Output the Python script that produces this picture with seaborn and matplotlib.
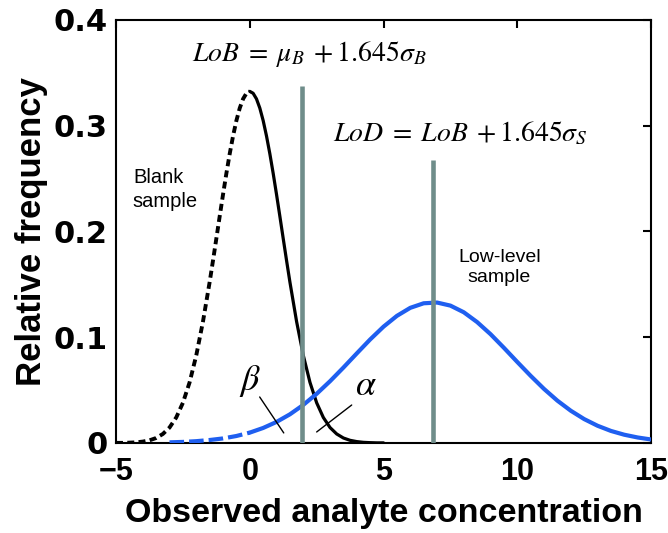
import matplotlib
matplotlib.use("Agg")
import matplotlib.pyplot as plt
import seaborn as sns
import pandas as pd

# ---- data ----
blank_x = [-5.0, -4.75, -4.5, -4.25, -4.0, -3.75, -3.5, -3.25, -3.0, -2.75,
           -2.5, -2.25, -2.0, -1.75, -1.5, -1.375, -1.25, -1.125, -1.0, -0.875,
           -0.75, -0.625, -0.5, -0.375, -0.25, -0.125, 0.0, 0.125, 0.25, 0.375,
           0.5, 0.625, 0.75, 0.875, 1.0, 1.125, 1.25, 1.375, 1.5, 1.75,
           2.0, 2.25, 2.5, 2.75, 3.0, 3.25, 3.5, 3.75, 4.0, 4.25,
           4.5, 4.75, 5.0]
blank_y = [0.0001, 0.0001, 0.0003, 0.0006, 0.0013, 0.0025, 0.0047, 0.0085, 0.0146, 0.0241,
           0.0380, 0.0573, 0.0829, 0.1148, 0.1522, 0.1725, 0.1933, 0.2143, 0.2350, 0.2549,
           0.2735, 0.2903, 0.3049, 0.3167, 0.3254, 0.3307, 0.3325, 0.3307, 0.3254, 0.3167,
           0.3049, 0.2903, 0.2735, 0.2549, 0.2350, 0.2143, 0.1933, 0.1725, 0.1522, 0.1148,
           0.0829, 0.0573, 0.0380, 0.0241, 0.0146, 0.0085, 0.0047, 0.0025, 0.0013, 0.0006,
           0.0003, 0.0001, 0.0001]

low_x = [-3.0, -2.5, -2.0, -1.5, -1.0, -0.5, 0.0, 0.5, 1.0, 1.5,
         2.0, 2.5, 3.0, 3.5, 4.0, 4.5, 5.0, 5.5, 6.0, 6.5,
         7.0, 7.5, 8.0, 8.5, 9.0, 9.5, 10.0, 10.5, 11.0, 11.5,
         12.0, 12.5, 13.0, 13.5, 14.0, 14.5, 15.0]
low_y = [0.0006, 0.0010, 0.0017, 0.0028, 0.0043, 0.0066, 0.0098, 0.0142, 0.0199, 0.0271,
         0.0360, 0.0465, 0.0584, 0.0713, 0.0847, 0.0979, 0.1100, 0.1202, 0.1278, 0.1321,
         0.1328, 0.1299, 0.1236, 0.1143, 0.1029, 0.0900, 0.0766, 0.0635, 0.0511, 0.0400,
         0.0305, 0.0226, 0.0163, 0.0114, 0.0078, 0.0052, 0.0033]

split_x = 0.0                       # dashed left of this, solid right
lob_x, lob_top = 1.95, 0.338        # Limit of Blank marker
lod_x, lod_top = 6.85, 0.268        # Limit of Detection marker

x_ticks = [-5, 0, 5, 10, 15]
x_tick_labels = ["\u22125", "0", "5", "10", "15"]
y_ticks = [0, 0.1, 0.2, 0.3, 0.4]
y_tick_labels = ["0", "0.1", "0.2", "0.3", "0.4"]

x_label = "Observed analyte concentration"
y_label = "Relative frequency"

# ---- styling ----
sns.set_style("white")
plt.rcParams["font.family"] = ["Liberation Sans", "DejaVu Sans"]
plt.rcParams["mathtext.fontset"] = "stix"
for k in ["text.color", "axes.labelcolor", "xtick.color", "ytick.color"]:
    plt.rcParams[k] = "black"

BLUE = "#1f5ff0"
GRAY = "#6f8d8a"

blank = pd.DataFrame({"x": blank_x, "y": blank_y})
low = pd.DataFrame({"x": low_x, "y": low_y})

fig = plt.figure(figsize=(6.68, 5.33), dpi=100)
ax = fig.add_axes([0.1737, 0.1689, 0.8009, 0.7936])

# blank sample curve
sns.lineplot(data=blank[blank.x <= split_x], x="x", y="y", ax=ax, color="black",
             lw=2.8, linestyle=(0, (1.8, 1.1)), dash_capstyle="butt", zorder=3)
sns.lineplot(data=blank[blank.x >= split_x], x="x", y="y", ax=ax, color="black",
             lw=2.3, zorder=3)
# low-level sample curve
sns.lineplot(data=low[low.x <= split_x], x="x", y="y", ax=ax, color=BLUE,
             lw=3.0, linestyle=(0, (3.5, 1.2)), dash_capstyle="butt", zorder=4)
sns.lineplot(data=low[low.x >= split_x], x="x", y="y", ax=ax, color=BLUE,
             lw=3.0, zorder=4)

# LoB / LoD lines
ax.vlines([lob_x, lod_x], 0, [lob_top, lod_top], colors=GRAY, lw=3.3, zorder=5)

# beta / alpha pointers
ax.plot([0.37, 1.27], [0.0435, 0.0095], color="black", lw=1.0, zorder=6)
ax.plot([2.50, 3.81], [0.0104, 0.0359], color="black", lw=1.0, zorder=6)
ax.text(0.0, 0.0586, r"$\beta$", fontsize=26, ha="center", va="center")
ax.text(4.33, 0.054, r"$\alpha$", fontsize=26, ha="center", va="center")

# formulas
ax.text(-2.16, 0.361, r"$LoB\;=\;\mu_B\;+1.645\sigma_B$", fontsize=20,
        ha="left", va="baseline")
ax.text(3.10, 0.285, r"$LoD\;=\;LoB\;+1.645\sigma_S$", fontsize=20,
        ha="left", va="baseline")

# sample labels
ax.text(-4.37, 0.2459, "Blank", fontsize=14.5, ha="left", va="baseline")
ax.text(-4.37, 0.2232, "sample", fontsize=14.5, ha="left", va="baseline")
ax.text(9.33, 0.1712, "Low-level", fontsize=14, ha="center", va="baseline")
ax.text(9.33, 0.1518, "sample", fontsize=14, ha="center", va="baseline")

ax.set_xlim(-5, 15)
ax.set_ylim(0, 0.4)
ax.set_xticks(x_ticks)
ax.set_xticklabels(x_tick_labels)
ax.set_yticks(y_ticks)
ax.set_yticklabels(y_tick_labels)
ax.tick_params(direction="in", length=6, width=1.5, top=True, right=True)
ax.tick_params(axis="x", pad=10)
ax.tick_params(axis="y", pad=6)
for lab in ax.get_xticklabels():
    lab.set_fontweight("bold")
    lab.set_fontsize(22)
for lab in ax.get_yticklabels():
    lab.set_fontweight("bold")
    lab.set_fontfamily(["DejaVu Sans"])
    lab.set_fontsize(22)
for sp in ax.spines.values():
    sp.set_visible(True)
    sp.set_color("black")
    sp.set_linewidth(1.5)

ax.set_xlabel(x_label, fontsize=24.5, fontweight="bold", labelpad=8)
ax.set_ylabel(y_label, fontsize=25, fontweight="bold", labelpad=4)

fig.savefig("out.png", dpi=100)
